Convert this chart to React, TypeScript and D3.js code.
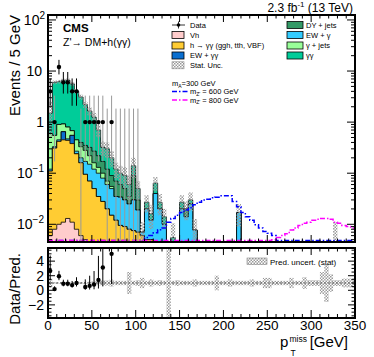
import * as d3 from 'd3';

const FONT = "'Liberation Sans', Arial, Helvetica, sans-serif";
const NB = 70;
const pad = (a: number[]) => [...a, ...Array(NB - a.length).fill(0)];

// backgrounds, events per 5 GeV bin (0-350 GeV)
const vh = pad([0.006, 0.008, 0.010, 0.011, 0.013, 0.011, 0.008, 0.006, 0.005, 0.004, 0.003, 0.003]);
const hgg = pad([0.104, 0.302, 0.41, 0.439, 0.427, 0.369, 0.232, 0.154, 0.09, 0.066,
  0.047, 0.032, 0.028, 0.02, 0.015, 0.012, 0.0095, 0.009, 0.008, 0.0075,
  0.007, 0.006, 0.005, 0.005]);
const ewgg = pad([0, 0, 0, 0.2, 0, 0.17]);
const ewg = pad([0.01, 0.02, 0.03, 0, 0.03, 0, 0.03, 0.04, 0.075, 0.08,
  0.07, 0.065, 0.052, 0.04, 0.035, 0.023, 0.0245, 0.021, 0.017, 0.0225,
  0.012, 0.001, 0.015, 0.007, 0.04, 0.02, 0.01, 0, 0, 0,
  0.02, 0.014, 0.025, 0.0077, 0, 0, 0, 0, 0, 0,
  0, 0, 0, 0.017, 0, 0, 0, 0, 0, 0,
  0, 0, 0, 0, 0, 0, 0, 0, 0, 0,
  0, 0, 0, 0, 0, 0.003]);
const gjets = pad([0.48, 0.22, 0.45, 0.27, 0.33, 0.13, 0.18, 0.13, 0.11, 0.07, 0.04, 0.03, 0.02, 0.01, 0.005]);
const dyjets = pad([0, 0, 0, 0, 0, 0, 0, 0.07, 0.07, 0.1,
  0.11, 0.09, 0.07, 0.05, 0.035, 0.035, 0.026, 0.02, 0.01, 0.06,
  0.011, 0, 0, 0, 0, 0, 0, 0, 0, 0,
  0, 0.006]);
const gg = pad([0.9, 5.45, 5.3, 5.68, 5.8, 4.92, 3.55, 2.7, 1.85, 1.33,
  0.98, 0.48, 0.15, 0.18, 0.11, 0.05, 0.04, 0.04, 0.025, 0.05,
  0.02, 0, 0.007, 0.004, 0.024, 0.007, 0.004, 0, 0.0055, 0,
  0.007, 0, 0.005]);

const statUnc = pad([1.0, 0.5, 0.5, 0.5, 0.5, 0.5, 0.4, 0.35, 0.3, 0.3,
  0.25, 0.2, 0.1, 0.1, 0.07, 0.04, 0.04, 0.04, 0.03, 0.06,
  0.02, 0.004, 0.01, 0.008, 0.02, 0.012, 0.006, 0, 0.005, 0,
  0.01, 0.008, 0.012, 0.005, 0, 0, 0, 0, 0, 0,
  0, 0, 0, 0.008, 0, 0, 0, 0, 0, 0,
  0, 0, 0, 0, 0, 0, 0, 0, 0, 0,
  0, 0, 0, 0, 0, 0.008]);

const ratioUnc = [0.6, 0.1, 0.1, 0.1, 0.1, 0.1, 0.1, 0.12, 0.15, 0.2,
  0.2, 0.3, 0.35, 0.35, 0.5, 0.3, 0.3, 0.3, 1.5, 0.3,
  0.4, 0.7, 0.3, 0.5, 0.3, 0.4, 0.3, 9, 0.3, 0.4,
  0.3, 0.3, 0.3, 0.5, 0.3, 0.3, 0.3, 0.3, 1.0, 0.3,
  0.3, 0.5, 0.3, 0.3, 0.3, 0.3, 0.5, 0.3, 0.3, 0.7,
  0.7, 0.3, 0.3, 0.3, 0.3, 0.7, 0.3, 0.3, 0.8, 0.4,
  0.4, 0.4, 1.5, 2.6, 1.2, 0.4, 0.4, 0.6, 0.6, 0.6];

// signals
const mz600 = pad([0, 0, 0, 0, 0, 0, 0, 0, 0, 0, 0, 0, 0, 0, 0, 0, 0, 0, 0, 0, 0, 0,
  0.0055, 0.006, 0.0068, 0.0078, 0.0085, 0.011, 0.013, 0.015,
  0.017, 0.019, 0.021, 0.024, 0.027, 0.030, 0.031, 0.033, 0.034, 0.036,
  0.036, 0.036, 0.028, 0.022, 0.017, 0.014, 0.012, 0.0098, 0.0085, 0.0072,
  0.0067, 0.006]);
const mz800 = [...Array(51).fill(0),
  0.005, 0.0055, 0.006, 0.0065, 0.0077, 0.0085, 0.0095, 0.0105, 0.011,
  0.012, 0.0125, 0.013, 0.013, 0.0125, 0.011, 0.0105, 0.0095, 0.009, 0.0085];

// data (first 21 bins)
const data = [4, 1, 12, 6, 6, 4, 4, 0, 1, 1, 1, 1, 1, 0, 1, 0, 0, 0, 0, 0, 0];
const dataErrLo = [1.91, 0.83, 3.42, 2.38, 2.38, 1.91, 1.91, 0, 0.83, 0.83, 0.83, 0.83, 0.83, 0, 0.83, 0, 0, 0, 0, 0, 0];
const dataErrHi = [3.16, 2.3, 4.54, 3.58, 3.58, 3.16, 3.16, 1.84, 2.3, 2.3, 2.3, 2.3, 2.3, 1.84, 2.3, 1.84, 1.84, 1.84, 1.84, 1.84, 1.84];

const layers = [
  { name: 'Vh', vals: vh, color: '#ffcccc' },
  { name: 'hgg', vals: hgg, color: '#ffcc33' },
  { name: 'EWgg', vals: ewgg, color: '#0a6fd0' },
  { name: 'EWg', vals: ewg, color: '#33ccff' },
  { name: 'gjets', vals: gjets, color: '#99ff99' },
  { name: 'DY', vals: dyjets, color: '#339966' },
  { name: 'gg', vals: gg, color: '#00cc99' },
];

const L = 48, R = 355, MT = 15, MB = 242, RT = 248, RB = 318;

export default function App() {
  const x = d3.scaleLinear().domain([0, 350]).range([L, R]);
  const y = d3.scaleLog().domain([0.0045, 125]).range([MB, MT]);
  const yr = d3.scaleLinear().domain([-3.8, 5.8]).range([RB, RT]);

  // cumulative stack
  const cum: number[][] = [];
  layers.forEach((ly, k) => {
    cum.push(ly.vals.map((v, i) => v + (k > 0 ? cum[k - 1][i] : 0)));
  });
  const total = cum[cum.length - 1];

  const stepArea = (vals: number[]) => {
    const base = MB + 3;
    let d = `M${x(0)},${base}`;
    vals.forEach((v, i) => {
      const yy = v > 0 ? y(v) : base;
      d += `L${x(i * 5)},${yy}L${x(i * 5 + 5)},${yy}`;
    });
    return d + `L${x(350)},${base}Z`;
  };
  const stepLine = (vals: number[]) => {
    let d = '';
    vals.forEach((v, i) => {
      const yy = v > 0 ? Math.min(y(v), MB - 1.5) : MB - 1.5;
      d += `${i === 0 ? 'M' : 'L'}${x(i * 5)},${yy}L${x(i * 5 + 5)},${yy}`;
    });
    return d;
  };

  const xMajor = d3.range(0, 351, 50);
  const xMinor = d3.range(0, 351, 10).filter(v => v % 50 !== 0);
  const logMajor = [0.01, 0.1, 1, 10, 100];
  const logMinor: number[] = [];
  [0.001, 0.01, 0.1, 1, 10, 100].forEach(dec => {
    for (let k = 2; k <= 9; k++) {
      const v = k * dec;
      if (v > 0.0045 && v < 125) logMinor.push(v);
    }
  });
  const rMajor = [-2, 0, 2, 4];
  const rMinor = d3.range(-3.5, 5.8, 0.5).filter(v => v % 2 !== 0);

  const ticks: JSX.Element[] = [];
  const tk = (x1: number, y1: number, x2: number, y2: number) =>
    ticks.push(<line key={ticks.length} x1={x1} y1={y1} x2={x2} y2={y2} stroke="#000" strokeWidth={1} />);
  xMajor.forEach(v => {
    tk(x(v), MB, x(v), MB - 7); tk(x(v), MT, x(v), MT + 7);
    tk(x(v), RB, x(v), RB - 8); tk(x(v), RT, x(v), RT + 7);
  });
  xMinor.forEach(v => {
    tk(x(v), MB, x(v), MB - 3.5); tk(x(v), MT, x(v), MT + 3.5);
    tk(x(v), RB, x(v), RB - 4); tk(x(v), RT, x(v), RT + 3.5);
  });
  logMajor.forEach(v => { tk(L, y(v), L + 8, y(v)); tk(R, y(v), R - 8, y(v)); });
  logMinor.forEach(v => { tk(L, y(v), L + 4, y(v)); tk(R, y(v), R - 4, y(v)); });
  rMajor.forEach(v => { tk(L, yr(v), L + 7, yr(v)); tk(R, yr(v), R - 7, yr(v)); });
  rMinor.forEach(v => { tk(L, yr(v), L + 3.5, yr(v)); tk(R, yr(v), R - 3.5, yr(v)); });

  const clampR = (v: number) => Math.max(-3.8, Math.min(5.8, v));
  const dash = '5,2,1.5,2';

  return (
    <svg width={374} height={357} style={{ position: 'absolute', left: 0, top: 0, background: '#fff' }}
      fontFamily={FONT}>
      <defs>
        <pattern id="hatch" width={3} height={3} patternUnits="userSpaceOnUse">
          <rect x={0} y={0} width={1.5} height={1.5} fill="#999" />
          <rect x={1.5} y={1.5} width={1.5} height={1.5} fill="#999" />
        </pattern>
        <clipPath id="clipMain"><rect x={L} y={MT} width={R - L} height={MB - MT} /></clipPath>
        <clipPath id="clipRatio"><rect x={L} y={RT} width={R - L} height={RB - RT} /></clipPath>
      </defs>

      {/* main panel */}
      <g clipPath="url(#clipMain)">
        {layers.map((ly, k) => k).reverse().map(k => (
          <path key={layers[k].name} d={stepArea(cum[k])} fill={layers[k].color} stroke="#000" strokeWidth={0.8} />
        ))}
        {total.map((t, i) => statUnc[i] > 0 ? (
          <rect key={'h' + i} x={x(i * 5)} width={x(5) - x(0)}
            y={y(t + statUnc[i])}
            height={(t - statUnc[i] > 0.0045 ? y(t - statUnc[i]) : MB + 2) - y(t + statUnc[i])}
            fill="url(#hatch)" />
        ) : null)}
        <path d={stepLine(mz600)} fill="none" stroke="#0000ff" strokeWidth={1.5} strokeDasharray={dash} />
        <path d={stepLine(mz800)} fill="none" stroke="#ff00ff" strokeWidth={1.5} strokeDasharray={dash} />
        {data.map((n, i) => {
          const cx = x(i * 5 + 2.5);
          const top = y(n + dataErrHi[i]);
          const bot = n - dataErrLo[i] > 0.0045 ? y(n - dataErrLo[i]) : MB + 2;
          return (
            <g key={'d' + i}>
              <line x1={cx} x2={cx} y1={top} y2={bot} stroke={n > 1 ? '#000' : '#999'} strokeWidth={1} />
              {n > 0 && <circle cx={cx} cy={y(n)} r={2.2} fill="#000" />}
            </g>
          );
        })}
      </g>

      {/* ratio panel */}
      <g clipPath="url(#clipRatio)">
        {ratioUnc.map((u, i) => (
          <rect key={'r' + i} x={x(i * 5)} width={x(5) - x(0)} y={yr(clampR(1 + u))}
            height={yr(clampR(1 - u)) - yr(clampR(1 + u))} fill="url(#hatch)" />
        ))}
        <line x1={L} x2={R} y1={yr(1)} y2={yr(1)} stroke="#555" strokeWidth={1} strokeDasharray="2,2" />
        {data.map((n, i) => {
          if (n <= 0) return null;
          const cx = x(i * 5 + 2.5);
          const r = n / total[i];
          const hi = (n + dataErrHi[i]) / total[i];
          const lo = (n - dataErrLo[i]) / total[i];
          return (
            <g key={'rd' + i}>
              <line x1={cx} x2={cx} y1={yr(clampR(hi))} y2={yr(clampR(lo))} stroke="#000" strokeWidth={1} />
              {r < 5.8 && <circle cx={cx} cy={yr(r)} r={2.2} fill="#000" />}
            </g>
          );
        })}
      </g>

      {ticks}
      <rect x={L} y={MT} width={R - L} height={MB - MT} fill="none" stroke="#000" strokeWidth={2} />
      <rect x={L} y={RT} width={R - L} height={RB - RT} fill="none" stroke="#000" strokeWidth={2} />

      {/* y tick labels main */}
      <g fontSize={14} textAnchor="end">
        <text x={45} y={y(100) + 5}>10<tspan fontSize={10} dy={-6}>2</tspan></text>
        <text x={42} y={y(10) + 5}>10</text>
        <text x={44} y={y(1) + 5}>1</text>
        <text x={44} y={y(0.1) + 5}>10<tspan fontSize={10} dy={-6}>−1</tspan></text>
        <text x={44} y={y(0.01) + 5}>10<tspan fontSize={10} dy={-6}>−2</tspan></text>
      </g>
      {/* ratio y labels */}
      <g fontSize={14} textAnchor="end">
        {rMajor.map(v => (
          <text key={'ry' + v} x={44} y={yr(v) + 5}>{v < 0 ? '−' + Math.abs(v) : v}</text>
        ))}
      </g>
      {/* x labels */}
      <g fontSize={13.5} textAnchor="middle">
        {xMajor.map(v => <text key={'xl' + v} x={x(v)} y={330}>{v}</text>)}
      </g>
      <text x={280} y={347} fontSize={15}>p</text>
      <text x={289.5} y={341.5} fontSize={8.5}>miss</text>
      <text x={290.5} y={356} fontSize={8.5}>T</text>
      <text x={348} y={347} fontSize={15} textAnchor="end">[GeV]</text>

      <text transform="translate(19.5,15) rotate(-90)" textAnchor="end" fontSize={15}>Events / 5 GeV</text>
      <text transform="translate(19.5,253) rotate(-90)" textAnchor="end" fontSize={15}>Data/Pred.</text>

      <text x={353} y={11.5} fontSize={12} textAnchor="end">2.3 fb<tspan fontSize={8} dy={-4.5}>-1</tspan><tspan dy={4.5}> (13 TeV)</tspan></text>
      <text x={63} y={32} fontSize={11.5} fontWeight="bold">CMS</text>
      <text x={63} y={45.5} fontSize={10.5}>Z'→ DM+h(γγ)</text>

      {/* legend left column */}
      <g fontSize={7.5}>
        <line x1={172} x2={185} y1={25} y2={25} stroke="#000" strokeWidth={0.8} />
        <line x1={178.5} x2={178.5} y1={21.5} y2={28.5} stroke="#000" strokeWidth={0.8} />
        <circle cx={178.5} cy={25} r={1.8} fill="#000" />
        <text x={190} y={27.7}>Data</text>
        <rect x={172} y={31.5} width={12} height={7} fill="#ffcccc" stroke="#000" strokeWidth={0.8} />
        <text x={190} y={37.7}>Vh</text>
        <rect x={172} y={42} width={12} height={7} fill="#ffcc33" stroke="#000" strokeWidth={0.8} />
        <text x={190} y={48.2}>h → γγ (ggh, tth, VBF)</text>
        <rect x={172} y={52} width={12} height={7} fill="#0a6fd0" stroke="#000" strokeWidth={0.8} />
        <text x={190} y={58}>EW + γγ</text>
        <rect x={172} y={61.8} width={12} height={7} fill="url(#hatch)" stroke="#888" strokeWidth={0.6} />
        <text x={190} y={68}>Stat. Unc.</text>
        <text x={172} y={86}>m<tspan fontSize={5} dy={1.5}>A</tspan><tspan dy={-1.5}>=300 GeV</tspan></text>
        <line x1={172} x2={188} y1={91.5} y2={91.5} stroke="#0000ff" strokeWidth={1.5} strokeDasharray={dash} />
        <text x={190} y={94.2}>m<tspan fontSize={5} dy={1.5}>Z'</tspan><tspan dy={-1.5}> = 600 GeV</tspan></text>
        <line x1={172} x2={188} y1={100} y2={100} stroke="#ff00ff" strokeWidth={1.5} strokeDasharray={dash} />
        <text x={190} y={102.7}>m<tspan fontSize={5} dy={1.5}>Z'</tspan><tspan dy={-1.5}> = 800 GeV</tspan></text>
      </g>
      {/* legend right column */}
      <g fontSize={7.5}>
        <rect x={287} y={21.5} width={16} height={7} fill="#339966" stroke="#000" strokeWidth={0.8} />
        <text x={306} y={27.7}>DY + jets</text>
        <rect x={287} y={31.5} width={16} height={7} fill="#33ccff" stroke="#000" strokeWidth={0.8} />
        <text x={306} y={37.7}>EW + γ</text>
        <rect x={287} y={42} width={16} height={7} fill="#99ff99" stroke="#000" strokeWidth={0.8} />
        <text x={306} y={48.2}>γ + jets</text>
        <rect x={287} y={52} width={16} height={7} fill="#00cc99" stroke="#000" strokeWidth={0.8} />
        <text x={306} y={58}>γγ</text>
      </g>
      {/* ratio legend */}
      <rect x={247} y={258} width={20} height={6.5} fill="url(#hatch)" stroke="#888" strokeWidth={0.6} />
      <text x={270} y={264.5} fontSize={8}>Pred. uncert. (stat)</text>
    </svg>
  );
}
